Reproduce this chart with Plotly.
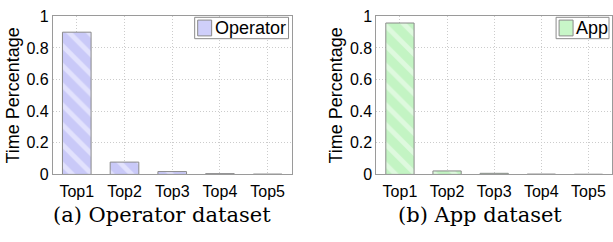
import plotly.graph_objects as go

# ---- data ----
categories = ["Top1", "Top2", "Top3", "Top4", "Top5"]
operator_vals = [0.90, 0.078, 0.018, 0.005, 0.002]
app_vals = [0.958, 0.022, 0.007, 0.002, 0.001]
series_names = ["Operator", "App"]
captions = ["(a) Operator dataset", "(b) App dataset"]
y_ticks = [0, 0.2, 0.4, 0.6, 0.8, 1]
y_ticktext = ["0", "0.2", "0.4", "0.6", "0.8", "1"]

W, H = 613, 242
def px(x):
    return min(1.0, x / W)
def py(y):
    return 1 - y / H

fig = go.Figure()

styles = [
    dict(bg="#c9c9f8", fg="#e2e2fd", sw="#cfcffa"),
    dict(bg="#c3f4c3", fg="#def9de", sw="#c8f6c8"),
]
vals_list = [operator_vals, app_vals]
axes = [("x", "y"), ("x2", "y2")]
for i in range(2):
    st = styles[i]
    fig.add_trace(go.Bar(
        x=categories, y=vals_list[i], name=series_names[i],
        xaxis=axes[i][0], yaxis=axes[i][1], width=0.6,
        showlegend=False,
        marker=dict(
            color=st["bg"],
            line=dict(color="#8a8a8a", width=1),
            pattern=dict(shape="\\", fgcolor=st["fg"], bgcolor=st["bg"],
                         size=14, solidity=0.35, fillmode="replace"),
        ),
    ))

tickfont = dict(family="Liberation Sans, Arial", size=16, color="black")
common_x = dict(
    type="category", range=[-0.5, 4.5], showline=True, linecolor="#9a9a9a",
    linewidth=1, mirror=True, showgrid=True, gridcolor="#cccccc",
    griddash="1px,2px", gridwidth=1, ticks="", tickfont=tickfont,
    ticklabelstandoff=2, zeroline=False, fixedrange=True,
    ticklabeloverflow="allow",
)
common_y = dict(
    range=[0, 1], tickvals=y_ticks, ticktext=y_ticktext, showline=True,
    linecolor="#9a9a9a", linewidth=1, mirror=True, showgrid=True,
    gridcolor="#cccccc", griddash="1px,2px", gridwidth=1, ticks="",
    tickfont=tickfont, zeroline=False, fixedrange=True,
    ticklabeloverflow="allow",
    title=dict(text="Time Percentage",
               font=dict(family="Liberation Sans, Arial", size=18, color="black"),
               standoff=2),
)

ydom = [py(179), py(9)]
fig.update_layout(
    width=W, height=H, margin=dict(l=0, r=0, t=0, b=0),
    paper_bgcolor="white", plot_bgcolor="white", showlegend=False,
    xaxis=dict(common_x, domain=[px(53), px(292)], anchor="y"),
    yaxis=dict(common_y, domain=ydom, anchor="x"),
    xaxis2=dict(common_x, domain=[px(377), 1.0], anchor="y2"),
    yaxis2=dict(common_y, domain=ydom, anchor="x2"),
    bargap=0.4,
)

# manual legends
legends = [
    dict(box=(195, 10, 289, 33), sw=(198, 13, 212, 30), tx=213),
    dict(box=(557, 10, 610, 33), sw=(560, 13, 574, 30), tx=575),
]
for i, lg in enumerate(legends):
    x0, y0, x1, y1 = lg["box"]
    fig.add_shape(type="rect", xref="paper", yref="paper",
                  x0=px(x0), x1=px(x1), y0=py(y1), y1=py(y0),
                  line=dict(color="#8a8a8a", width=1), fillcolor="white")
    sx0, sy0, sx1, sy1 = lg["sw"]
    fig.add_shape(type="rect", xref="paper", yref="paper",
                  x0=px(sx0), x1=px(sx1), y0=py(sy1), y1=py(sy0),
                  line=dict(color="#8a8a8a", width=1), fillcolor=styles[i]["sw"])
    fig.add_annotation(xref="paper", yref="paper", x=px(lg["tx"]), y=py(21.5),
                       text=series_names[i], showarrow=False, xanchor="left",
                       yanchor="middle",
                       font=dict(family="Liberation Sans, Arial", size=18, color="black"))

# captions
cap_x = [162, 481]
for i in range(2):
    fig.add_annotation(xref="paper", yref="paper", x=px(cap_x[i]), y=py(222.5),
                       text=captions[i], showarrow=False, xanchor="center",
                       yanchor="middle",
                       font=dict(family="DejaVu Serif", size=21, color="black"))

fig.write_html("out.html", config={"displayModeBar": False},
               post_script="document.body.style.margin='0';document.body.style.padding='0';")
